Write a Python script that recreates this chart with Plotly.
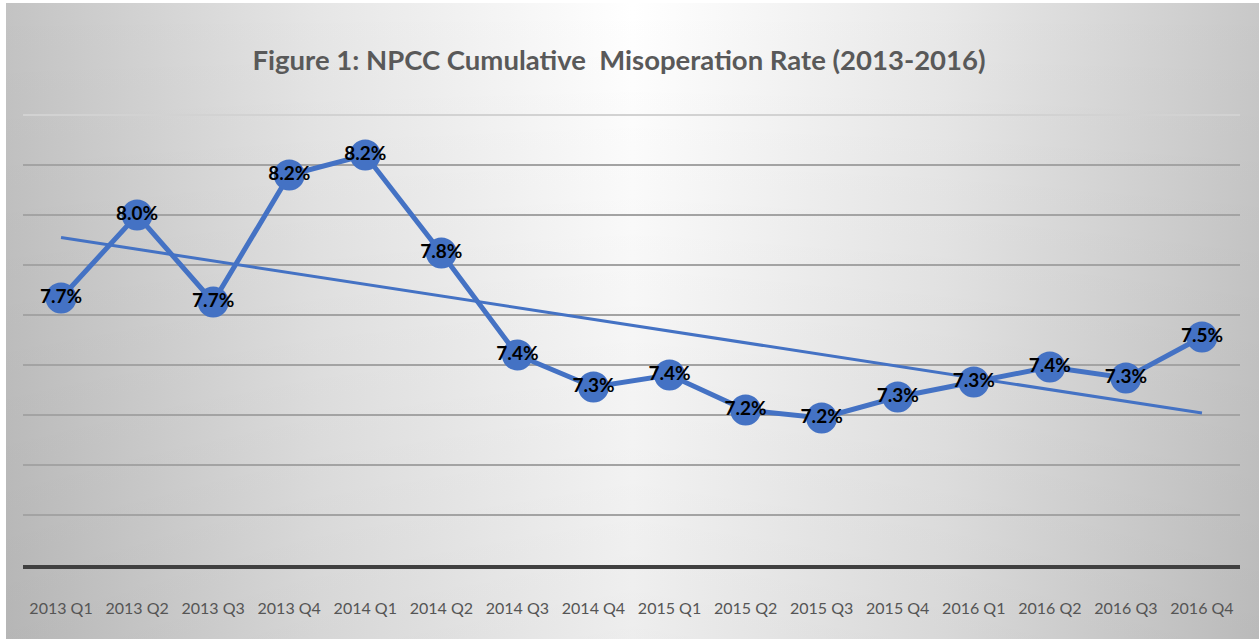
import base64
import numpy as np
import plotly.graph_objects as go

quarters = ["2013 Q1", "2013 Q2", "2013 Q3", "2013 Q4", "2014 Q1", "2014 Q2", "2014 Q3", "2014 Q4",
            "2015 Q1", "2015 Q2", "2015 Q3", "2015 Q4", "2016 Q1", "2016 Q2", "2016 Q3", "2016 Q4"]
rate_pct = [7.668, 8.000, 7.652, 8.160, 8.240, 7.848, 7.440, 7.312,
            7.360, 7.220, 7.188, 7.272, 7.332, 7.392, 7.348, 7.512]
labels = [f"{v:.1f}%" for v in rate_pct]

W, H = 1259, 639
ML, MR, MT, MB = 23, 19, 115, 74
BLUE = "#4472C4"
FONT = "Lato, Roboto, sans-serif"

idx = np.arange(len(rate_pct))
slope, intercept = np.polyfit(idx, np.array(rate_pct), 1)
trend = intercept + slope * idx

svg = ("<svg xmlns='http://www.w3.org/2000/svg' width='1253' height='636' preserveAspectRatio='none'>"
       "<defs><linearGradient id='h' x1='0' y1='0' x2='1' y2='0'>"
       "<stop offset='0' stop-color='#c3c3c3'/><stop offset='0.25' stop-color='#e6e6e6'/>"
       "<stop offset='0.5' stop-color='#ffffff'/><stop offset='0.75' stop-color='#e8e8e8'/>"
       "<stop offset='1' stop-color='#c8c8c8'/></linearGradient>"
       "<linearGradient id='v' x1='0' y1='0' x2='0' y2='1'>"
       "<stop offset='0' stop-color='#000' stop-opacity='0'/>"
       "<stop offset='1' stop-color='#000' stop-opacity='0.07'/></linearGradient></defs>"
       "<rect x='0' y='0' width='1253' height='636' fill='url(#h)'/>"
       "<rect x='0' y='0' width='1253' height='636' fill='url(#v)'/></svg>")
bg_src = "data:image/svg+xml;base64," + base64.b64encode(svg.encode()).decode()

pw, ph = W - ML - MR, H - MT - MB

fig = go.Figure()
fig.add_trace(go.Scatter(
    x=quarters, y=trend, mode="lines",
    line=dict(color=BLUE, width=3), hoverinfo="skip", showlegend=False))
fig.add_trace(go.Scatter(
    x=quarters, y=rate_pct, mode="lines+markers+text",
    line=dict(color=BLUE, width=5),
    marker=dict(color=BLUE, size=31, line=dict(width=0)),
    text=labels, textposition="middle center",
    textfont=dict(family=FONT, size=19, color="black", weight="bold"),
    showlegend=False))

fig.update_layout(
    width=W, height=H,
    margin=dict(l=ML, r=MR, t=MT, b=MB, autoexpand=False),
    paper_bgcolor="white", plot_bgcolor="rgba(0,0,0,0)",
    title=dict(text="<b>Figure 1: NPCC Cumulative  Misoperation Rate (2013-2016)</b>",
               x=(619 - ML) / pw, xref="paper", xanchor="center",
               y=1 - 60 / H, yanchor="middle",
               font=dict(family=FONT, size=27.5, color="#595959")),
    images=[dict(source=bg_src, xref="paper", yref="paper",
                 x=(6 - ML) / pw, y=1 + (MT - 3) / ph,
                 sizex=(W - 6) / pw, sizey=(H - 3) / ph,
                 xanchor="left", yanchor="top", sizing="stretch", layer="below")],
    shapes=[dict(type="line", xref="paper", yref="paper", x0=0, x1=1, y0=1, y1=1,
                 line=dict(color="#d2d2d2", width=2), layer="below")],
    xaxis=dict(type="category", range=[-0.5, len(quarters) - 0.5],
               showgrid=False, showline=True, linecolor="#404040", linewidth=4,
               ticks="outside", ticklen=26, tickcolor="rgba(0,0,0,0)", tickangle=0,
               tickfont=dict(family=FONT, size=16, color="#555555"),
               automargin=False, fixedrange=True),
    yaxis=dict(range=[6.6, 8.4], dtick=0.2, tick0=6.6, showgrid=True,
               gridcolor="#a3a3a3", gridwidth=2, zeroline=False,
               showticklabels=False, automargin=False, fixedrange=True),
)

fig.write_html("out.html")
